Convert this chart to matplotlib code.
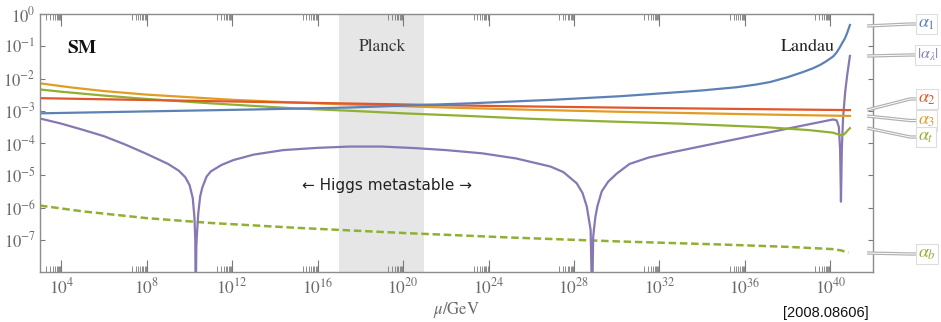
import matplotlib
matplotlib.use('Agg')
import matplotlib.pyplot as plt
from matplotlib.ticker import FixedLocator, FixedFormatter, NullFormatter

# couplings: log10(mu/GeV) vs log10(alpha)
lmu_a1 = [3.0, 8.0, 13.07, 17.51, 23.13, 27.0, 30.15, 32.96, 34.0, 35.63, 36.5, 37.18, 38.0, 38.72,
          39.2, 39.52, 39.8, 40.13, 40.3, 40.45, 40.55, 40.69, 40.8, 40.92]
la1 = [-3.08, -3.02, -2.96, -2.90, -2.77, -2.66, -2.55, -2.42, -2.37, -2.27, -2.19, -2.11, -1.96, -1.80,
       -1.68, -1.58, -1.47, -1.32, -1.19, -1.03, -0.91, -0.75, -0.57, -0.34]

lmu_a2 = [3.0, 10.0, 17.0, 24.0, 31.0, 38.0, 40.92]
la2 = [-2.61, -2.69, -2.77, -2.85, -2.91, -2.96, -2.98]

lmu_a3 = [3.0, 4.5, 6.0, 8.0, 10.0, 12.0, 14.0, 16.0, 18.0, 22.0, 26.0, 30.0, 34.0, 38.0, 40.92]
la3 = [-2.15, -2.28, -2.39, -2.50, -2.58, -2.66, -2.72, -2.77, -2.82, -2.90, -2.97, -3.03, -3.08, -3.13, -3.16]

lmu_at = [3.0, 4.0, 5.0, 6.0, 7.5, 9.0, 11.0, 13.0, 15.0, 17.5, 20.0, 23.0, 26.0, 29.0, 33.0, 37.0,
          39.0, 40.13, 40.4, 40.55, 40.7, 40.8, 40.92]
lat = [-2.34, -2.41, -2.47, -2.53, -2.61, -2.68, -2.77, -2.85, -2.93, -3.00, -3.08, -3.16, -3.25, -3.32,
       -3.40, -3.51, -3.60, -3.68, -3.74, -3.77, -3.70, -3.62, -3.54]

lmu_ab = [3.0, 5.0, 8.0, 11.0, 15.0, 20.0, 25.0, 30.0, 35.0, 38.0, 40.1, 40.5, 40.85]
lab = [-5.94, -6.12, -6.33, -6.48, -6.63, -6.79, -6.93, -7.05, -7.15, -7.22, -7.29, -7.33, -7.40]

lmu_al = [3.0, 4.0, 5.0, 6.0, 7.0, 8.0, 9.0, 9.5, 9.8, 10.0, 10.15, 10.23, 10.27, 10.29,
          10.32, 10.35, 10.41, 10.5, 10.6, 10.8, 11.0, 11.5, 12.05, 13.0, 14.39, 16.0, 17.5, 19.0,
          20.6, 22.0, 23.7, 25.3, 26.9, 27.5, 28.13, 28.4, 28.6, 28.78, 28.85,
          28.9, 29.0, 29.1, 29.3, 29.6, 30.0, 30.6, 31.5, 32.5, 35.0, 37.0, 39.0, 40.13,
          40.3, 40.4, 40.46, 40.5, 40.54, 40.6, 40.7, 40.8, 40.92]
lal = [-3.24, -3.40, -3.59, -3.79, -4.05, -4.34, -4.65, -4.86, -5.06, -5.30, -5.70, -6.30, -7.00, -9.0,
       -7.20, -6.80, -6.18, -5.65, -5.38, -5.04, -4.88, -4.68, -4.53, -4.36, -4.22, -4.15, -4.11, -4.11,
       -4.16, -4.22, -4.32, -4.48, -4.73, -4.90, -5.25, -5.55, -5.97, -6.70, -9.0,
       -6.90, -6.30, -5.95, -5.50, -5.20, -4.95, -4.65, -4.45, -4.30, -3.96, -3.69, -3.42, -3.27,
       -3.30, -3.50, -4.20, -5.82, -4.20, -3.20, -2.40, -1.85, -1.30]

planck_band = (1e17, 1e21)
x_major_exp = [4, 8, 12, 16, 20, 24, 28, 32, 36, 40]
y_major_exp = [-7, -6, -5, -4, -3, -2, -1, 0]

c_blue, c_orange, c_green, c_red, c_purple = '#5E81B5', '#E19C24', '#8FB032', '#E2562B', '#8778B3'

plt.rcParams['mathtext.fontset'] = 'stix'
plt.rcParams['font.family'] = 'STIXGeneral'

fig = plt.figure(figsize=(9.41, 3.22), dpi=100)
ax = fig.add_axes([40 / 941, 50 / 322, 833 / 941, 258 / 322])

ax.axvspan(*planck_band, color='#e6e6e6', lw=0, zorder=0)

def pw(l):
    return [10.0 ** v for v in l]

lw = 1.6
ax.plot(pw(lmu_ab), pw(lab), color=c_green, lw=1.8, ls=(0, (3, 1.5)))
ax.plot(pw(lmu_al), pw(lal), color=c_purple, lw=lw)
ax.plot(pw(lmu_at), pw(lat), color=c_green, lw=lw)
ax.plot(pw(lmu_a3), pw(la3), color=c_orange, lw=lw)
ax.plot(pw(lmu_a2), pw(la2), color=c_red, lw=lw)
ax.plot(pw(lmu_a1), pw(la1), color=c_blue, lw=lw)

ax.set_xscale('log')
ax.set_yscale('log')
ax.set_xlim(1e3, 1e42)
ax.set_ylim(1e-8, 1)

xt = [10.0 ** e for e in x_major_exp]
ax.xaxis.set_major_locator(FixedLocator(xt))
ax.xaxis.set_major_formatter(FixedFormatter(['$10^{%d}$' % e for e in x_major_exp]))
ax.xaxis.set_minor_locator(FixedLocator([k * 10.0 ** (e - 1) for e in x_major_exp for k in range(2, 10)]))
ax.xaxis.set_minor_formatter(NullFormatter())
yt = [10.0 ** e for e in y_major_exp]
ax.yaxis.set_major_locator(FixedLocator(yt))
ax.yaxis.set_major_formatter(FixedFormatter(['$10^{%d}$' % e for e in y_major_exp]))
ax.yaxis.set_minor_locator(FixedLocator([]))

gray = '#7a7a7a'
for s in ax.spines.values():
    s.set_color('#8c8c8c')
    s.set_linewidth(1.0)
ax.tick_params(axis='x', which='major', direction='in', top=True, length=8.5, width=0.8,
               color=gray, labelcolor='#6a6a6a', labelsize=12.5, pad=4)
ax.tick_params(axis='x', which='minor', direction='in', top=True, length=4.3, width=0.6, color=gray)
ax.tick_params(axis='y', which='major', direction='in', right=True, length=3.6, width=0.8,
               color=gray, labelcolor='#6a6a6a', labelsize=12, pad=3)

ax.set_xlabel(r'$\mu/\mathrm{GeV}$', color='#6a6a6a', fontsize=12, labelpad=2)

# overlay in pixel coordinates for annotations
ov = fig.add_axes([0, 0, 1, 1], facecolor='none')
ov.set_xlim(0, 941)
ov.set_ylim(322, 0)
ov.axis('off')

ov.text(82, 48, 'SM', fontsize=14, fontweight='bold', ha='center', va='center', color='#111')
ov.text(382, 47, 'Planck', fontsize=12.5, ha='center', va='center', color='#333')
ov.text(835, 47, 'Landau', fontsize=13, ha='right', va='center', color='#222')
ov.text(387, 185, '\u2190 Higgs metastable \u2192', fontsize=11, ha='center', va='center',
        color='#222', family='DejaVu Sans')
ov.text(826, 313, '[2008.08606]', fontsize=10.5, ha='center', va='center', color='#111',
        family='Liberation Sans')

callouts = [
    (r'$\alpha_1$', c_blue, [(867, 26), (910, 24), (916, 24)], 13),
    (r'$|\alpha_\lambda|$', c_purple, [(867, 56), (910, 55), (915, 55)], 11.5),
    (r'$\alpha_2$', c_red, [(867, 110), (910, 99), (916, 99)], 13),
    (r'$\alpha_3$', c_orange, [(867, 116), (910, 120.5), (916, 120.5)], 13),
    (r'$\alpha_t$', c_green, [(867, 128), (910, 137), (916, 137)], 13),
    (r'$\alpha_b$', c_green, [(867, 253), (910, 254), (916, 254)], 13),
]
for lbl, col, pts, fs in callouts:
    xs = [p[0] for p in pts]
    ys = [p[1] for p in pts]
    ov.plot(xs, ys, color='#b0b0b0', lw=2.4, solid_capstyle='butt')
    ov.plot(xs, ys, color='white', lw=0.7, solid_capstyle='butt')
    ov.text(pts[-1][0] + 2, pts[-1][1], lbl, color=col, fontsize=fs, ha='left', va='center',
            bbox=dict(boxstyle='square,pad=0.12', fc='white', ec='#dddddd', lw=0.8))

fig.savefig('out.png', dpi=100)
